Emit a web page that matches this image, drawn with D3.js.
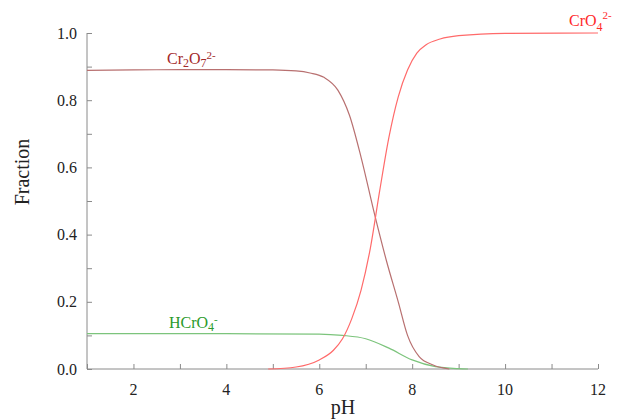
<!DOCTYPE html>
<html>
<head>
<meta charset="utf-8">
<script src="https://d3js.org/d3.v7.min.js"></script>
<style>
  body { margin: 0; background: #fff; }
  svg text { font-family: "Liberation Serif", "DejaVu Serif", serif !important; }
</style>
</head>
<body>
<div id="graph"></div>
<script>
// Cr2O7 2- fraction vs pH
var dichromatePH  = [1, 2, 3, 4, 5, 5.5, 5.8, 6.1, 6.4, 6.65, 6.9, 7.2, 7.45, 7.7, 7.9, 8.15, 8.45, 8.8];
var dichromateVal = [0.889, 0.89, 0.891, 0.891, 0.89, 0.887, 0.881, 0.868, 0.83, 0.755, 0.63, 0.455, 0.32, 0.2, 0.1, 0.037, 0.012, 0];

// CrO4 2- fraction vs pH
var chromatePH  = [4.9, 5.5, 6, 6.3, 6.5, 6.7, 6.9, 7.1, 7.3, 7.5, 7.7, 7.9, 8.1, 8.3, 8.6, 9, 10, 12];
var chromateVal = [0, 0.006, 0.027, 0.055, 0.09, 0.15, 0.235, 0.36, 0.53, 0.69, 0.81, 0.89, 0.94, 0.965, 0.982, 0.992, 0.999, 1.0];

// HCrO4 - fraction vs pH
var hydrogenPH  = [1, 4, 6, 6.5, 7, 7.5, 8, 8.5, 9, 9.2];
var hydrogenVal = [0.105, 0.105, 0.104, 0.1, 0.09, 0.062, 0.027, 0.007, 0.001, 0];

var xTicks = [2, 4, 6, 8, 10, 12];
var yTicks = [0, 0.2, 0.4, 0.6, 0.8, 1.0];

const fullwidth = 624;
const fullheight = 420;
const serif = "Liberation Serif";

var xScale = d3.scaleLinear().domain([1, 12]).range([87, 598]);
var yScale = d3.scaleLinear().domain([0, 1]).range([369, 33]);

var svg = d3.select("#graph")
  .append("svg")
  .attr("width", fullwidth)
  .attr("height", fullheight)
  .attr("font-family", serif);

var axisColor = "#8a8a8a";

// y axis (ticks point inward)
var yAxis = d3.axisRight(yScale)
  .tickValues(d3.range(0, 1.01, 0.1))
  .tickSize(5)
  .tickFormat("");
var gy = svg.append("g")
  .attr("transform", "translate(" + xScale(1) + ",0)")
  .call(yAxis)
  .attr("font-family", null);
gy.select(".domain").attr("d", "M0," + yScale(0) + "V" + yScale(1)).attr("stroke", axisColor);
gy.selectAll(".tick line").attr("stroke", axisColor);
gy.selectAll(".tick text").remove();

svg.append("g").selectAll("text")
  .data(yTicks)
  .enter().append("text")
  .attr("x", xScale(1) - 10)
  .attr("y", d => yScale(d))
  .attr("dy", "0.35em")
  .attr("text-anchor", "end")
  .attr("font-family", serif)
  .attr("font-size", 16)
  .attr("fill", "#222")
  .text(d => d3.format(".1f")(d));

// x axis (ticks point up)
var xAxis = d3.axisTop(xScale)
  .tickValues(d3.range(1, 12.01, 1))
  .tickSize(5)
  .tickFormat("");
var gx = svg.append("g")
  .attr("transform", "translate(0," + yScale(0) + ")")
  .call(xAxis)
  .attr("font-family", null);
gx.select(".domain").attr("d", "M" + xScale(1) + ",0H" + xScale(12)).attr("stroke", axisColor);
gx.selectAll(".tick line").attr("stroke", axisColor);
gx.selectAll(".tick text").remove();

svg.append("g").selectAll("text")
  .data(xTicks)
  .enter().append("text")
  .attr("x", d => xScale(d))
  .attr("y", yScale(0) + 26)
  .attr("text-anchor", "middle")
  .attr("font-family", serif)
  .attr("font-size", 16)
  .attr("fill", "#222")
  .text(d => d);

// axis titles
svg.append("text")
  .attr("x", 343)
  .attr("y", 414)
  .attr("text-anchor", "middle")
  .attr("font-size", 20)
  .attr("fill", "#222")
  .text("pH");

svg.append("text")
  .attr("transform", "translate(29,172) rotate(-90)")
  .attr("text-anchor", "middle")
  .attr("font-size", 20)
  .attr("fill", "#222")
  .text("Fraction");

// curves
var line = d3.line()
  .x(d => xScale(d[0]))
  .y(d => yScale(d[1]))
  .curve(d3.curveMonotoneX);

var series = [
  {x: hydrogenPH, y: hydrogenVal, color: "#7cc47c"},
  {x: dichromatePH, y: dichromateVal, color: "#b87070"},
  {x: chromatePH, y: chromateVal, color: "#ff6a6a"}
];

svg.append("g")
  .attr("fill", "none")
  .attr("stroke-width", 1.2)
  .selectAll("path")
  .data(series)
  .enter().append("path")
  .attr("stroke", d => d.color)
  .attr("d", d => line(d.x.map((v, i) => [v, d.y[i]])));

// species labels
function label(x, y, color, parts) {
  var t = svg.append("text")
    .attr("x", x).attr("y", y)
    .attr("font-size", 16)
    .attr("fill", color);
  parts.forEach(function(p) {
    t.append("tspan")
      .attr("dy", p[1])
      .attr("font-size", p[2] || 16)
      .text(p[0]);
  });
}

label(167, 64, "#a32a2a", [["Cr", 0], ["2", 3, 12], ["O", -3], ["7", 3, 12], ["2-", -8, 11]]);
label(169, 328, "#2a9a2a", [["HCrO", 0], ["4", 3, 12], ["-", -8, 11]]);
label(569, 26, "#ff2a2a", [["CrO", 0], ["4", 5, 12], ["2-", -12, 11]]);
</script>
</body>
</html>
